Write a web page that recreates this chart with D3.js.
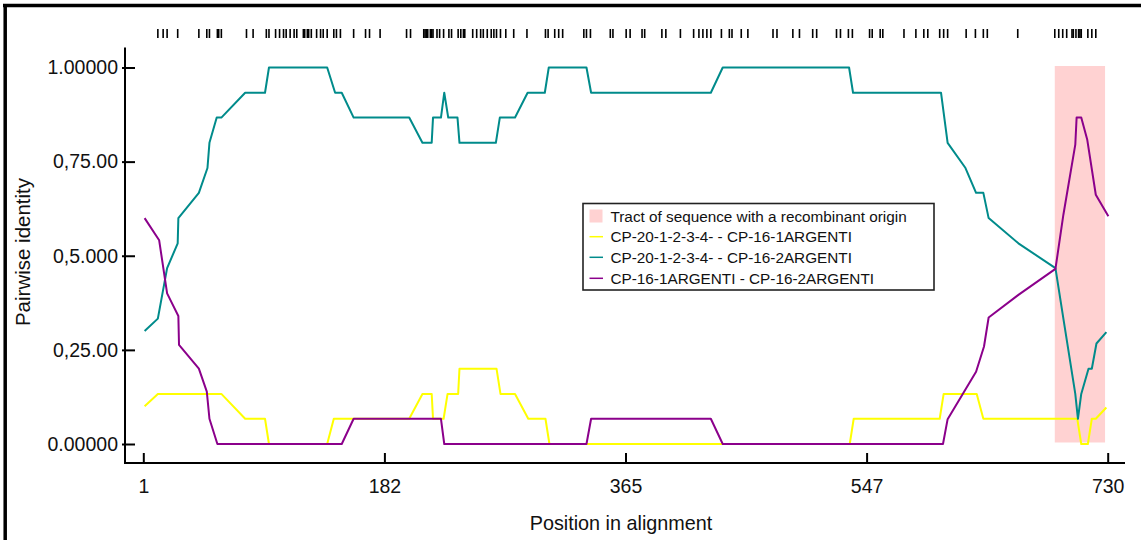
<!DOCTYPE html>
<html>
<head>
<meta charset="utf-8">
<script src="https://cdn.jsdelivr.net/npm/d3@7"></script>
<style>
  body { margin: 0; background: #fff; }
  svg { display: block; font-family: "Liberation Sans", Arial, sans-serif; }
</style>
</head>
<body>
<div id="chart"></div>
<script>
"use strict";

//informative sites shown as marks above the plot
var sitePositions = [12, 16, 19, 27, 43, 49, 51, 57, 58, 60, 79, 84, 94, 96, 101, 104, 107, 109,
  112, 115, 117, 122, 123, 125, 126, 128, 132, 135, 137, 140, 145, 147, 150, 160, 169, 172, 180,
  200, 203, 213, 214, 215, 216, 218, 219, 220, 223, 225, 228, 232, 234, 239, 241, 243, 244, 250,
  253, 256, 258, 261, 264, 266, 268, 271, 275, 281, 291, 305, 307, 312, 315, 318, 334, 336, 339,
  354, 356, 366, 369, 378, 380, 393, 396, 407, 417, 421, 424, 427, 430, 438, 444, 446, 453, 458,
  477, 480, 492, 497, 507, 510, 525, 528, 534, 537, 550, 552, 558, 560, 576, 585, 591, 594, 603,
  606, 609, 623, 630, 636, 639, 662, 690, 693, 696, 699, 703, 704, 706, 708, 709, 710, 715, 718, 721];

//[position, pairwise identity]
var seriesAB = [[2, 0.1], [12, 0.133], [60, 0.133], [78, 0.067], [93, 0.067], [96, 0], [140, 0],
  [145, 0.067], [202, 0.067], [212, 0.133], [219, 0.133], [220, 0.067], [228, 0.067], [231, 0.133],
  [239, 0.133], [240, 0.2], [268, 0.2], [271, 0.133], [282, 0.133], [292, 0.067], [305, 0.067],
  [308, 0], [535, 0], [538, 0.067], [603, 0.067], [606, 0.133], [631, 0.133], [636, 0.067],
  [707, 0.067], [710, 0], [715, 0], [718, 0.067], [721, 0.067], [729, 0.097]];

var seriesAC = [[2, 0.3], [12, 0.333], [19, 0.467], [27, 0.533], [27.5, 0.6], [43, 0.667],
  [49.5, 0.733], [51, 0.8], [56.5, 0.867], [60, 0.867], [78, 0.933], [93, 0.933], [96, 1],
  [140, 1], [146, 0.933], [151, 0.933], [160, 0.867], [202, 0.867], [212, 0.8], [219, 0.8],
  [220, 0.867], [226, 0.867], [228.5, 0.933], [231.5, 0.867], [238.5, 0.867], [240, 0.8],
  [267.5, 0.8], [270.5, 0.867], [282, 0.867], [291.5, 0.933], [304.5, 0.933], [307.5, 1],
  [336, 1], [339.5, 0.933], [430, 0.933], [439, 1], [534.5, 1], [537.5, 0.933], [604, 0.933],
  [609, 0.8], [622.5, 0.733], [630.5, 0.667], [636, 0.667], [640, 0.6], [662.5, 0.533],
  [690.5, 0.467], [696.5, 0.333], [705.5, 0.133], [707.5, 0.067], [710, 0.133], [715.5, 0.2],
  [718, 0.2], [721.5, 0.267], [729, 0.297]];

var seriesBC = [[2, 0.6], [13, 0.541], [19, 0.4], [27.5, 0.34], [28, 0.263], [43, 0.2],
  [49, 0.139], [51, 0.067], [57, 0], [151, 0], [160, 0.067], [226, 0.067], [228.5, 0], [336, 0],
  [339.5, 0.067], [430, 0.067], [439, 0], [605.5, 0], [609, 0.066], [630.5, 0.192], [636.5, 0.259],
  [640, 0.336], [662.5, 0.396], [690.5, 0.465], [696.5, 0.609], [705.5, 0.795], [706.5, 0.867],
  [710, 0.867], [714.5, 0.809], [721, 0.662], [730.5, 0.605]];

var recombinantTract = [690, 728];

var seriesNames = ["CP-20-1-2-3-4- - CP-16-1ARGENTI", "CP-20-1-2-3-4- - CP-16-2ARGENTI",
  "CP-16-1ARGENTI - CP-16-2ARGENTI"];
var seriesColors = ["#ffff00", "#008b8b", "#8b008b"];
var tractLabel = "Tract of sequence with a recombinant origin";

var xTickValues = [1, 183.25, 365.5, 547.75, 730];
var xTickLabels = ["1", "182", "365", "547", "730"];
var yTickValues = [0, 0.25, 0.5, 0.75, 1];
var yTickLabels = ["0.00000", "0,25.00", "0,5.000", "0,75.00", "1.00000"];

var w = 1141,
  h = 540;

var svg = d3
  .select("#chart")
  .append("svg")
  .attr("width", w)
  .attr("height", h);

var x = d3.scaleLinear().domain([1, 730]).range([143.3, 1107.7]);
var y = d3.scaleLinear().domain([0, 1]).range([444, 67.5]);

//frame on the top and left
svg.append("line").attr("x1", 3).attr("x2", w).attr("y1", 5.5).attr("y2", 5.5)
  .attr("stroke", "#000").attr("stroke-width", 3.5);
svg.append("line").attr("x1", 5.2).attr("x2", 5.2).attr("y1", 4).attr("y2", h)
  .attr("stroke", "#000").attr("stroke-width", 3.5);

//recombinant tract
svg.append("rect")
  .attr("x", x(recombinantTract[0]))
  .attr("width", x(recombinantTract[1]) - x(recombinantTract[0]))
  .attr("y", y(1.004))
  .attr("height", y(0.004) - y(1.004))
  .attr("fill", "#ffd2d2");

//site marks
svg.append("g").selectAll("line")
  .data(sitePositions)
  .enter()
  .append("line")
  .attr("x1", function(d) { return x(d); })
  .attr("x2", function(d) { return x(d); })
  .attr("y1", 29)
  .attr("y2", 38)
  .attr("stroke", "#000")
  .attr("stroke-width", 1.6);

//axes
var yAxis = d3.axisRight(y)
  .tickValues(yTickValues)
  .tickSize(10)
  .tickFormat(function(d, i) { return yTickLabels[i]; });

var gy = svg.append("g").attr("transform", "translate(125,0)").call(yAxis);
gy.select(".domain").remove();
gy.selectAll(".tick line").attr("x1", -3).attr("stroke-width", 2);
gy.selectAll(".tick text")
  .attr("x", -7)
  .attr("text-anchor", "end")
  .attr("font-size", 19.5)
  .attr("font-family", "Liberation Sans, Arial, sans-serif")
  .attr("fill", "#111");
svg.append("line").attr("x1", 125).attr("x2", 125).attr("y1", 47.5).attr("y2", 464)
  .attr("stroke", "#000").attr("stroke-width", 2);

var xAxis = d3.axisTop(x)
  .tickValues(xTickValues)
  .tickSize(10)
  .tickFormat(function(d, i) { return xTickLabels[i]; });

var gx = svg.append("g").attr("transform", "translate(0,463)").call(xAxis);
gx.select(".domain").remove();
gx.selectAll(".tick line").attr("stroke-width", 2);
gx.selectAll(".tick text")
  .attr("y", 30)
  .attr("dy", 0)
  .attr("font-size", 19.5)
  .attr("font-family", "Liberation Sans, Arial, sans-serif")
  .attr("fill", "#111");
svg.append("line").attr("x1", 124).attr("x2", 1125).attr("y1", 463).attr("y2", 463)
  .attr("stroke", "#000").attr("stroke-width", 2);

//axis titles
svg.append("text")
  .attr("x", 621)
  .attr("y", 530)
  .attr("text-anchor", "middle")
  .attr("font-size", 19.8)
  .attr("fill", "#111")
  .text("Position in alignment");

svg.append("text")
  .attr("transform", "translate(30,252) rotate(-90)")
  .attr("text-anchor", "middle")
  .attr("font-size", 20.5)
  .attr("fill", "#111")
  .text("Pairwise identity");

//identity lines
var line = d3.line()
  .x(function(d) { return x(d[0]); })
  .y(function(d) { return y(d[1]); });

[seriesAB, seriesAC, seriesBC].forEach(function(s, i) {
  svg.append("path")
    .datum(s)
    .attr("d", line)
    .attr("fill", "none")
    .attr("stroke", seriesColors[i])
    .attr("stroke-width", 2)
    .attr("stroke-linejoin", "round");
});

//legend
var lg = svg.append("g");
lg.append("rect")
  .attr("x", 583)
  .attr("y", 203.5)
  .attr("width", 351)
  .attr("height", 86.5)
  .attr("fill", "#fff")
  .attr("stroke", "#222")
  .attr("stroke-width", 1.6);

var rowY = [216, 236.7, 257.3, 278.3];

lg.append("rect")
  .attr("x", 589.5)
  .attr("y", rowY[0] - 6.5)
  .attr("width", 13)
  .attr("height", 13)
  .attr("fill", "#ffd2d2");

seriesNames.forEach(function(name, i) {
  lg.append("line")
    .attr("x1", 589.5)
    .attr("x2", 603)
    .attr("y1", rowY[i + 1])
    .attr("y2", rowY[i + 1])
    .attr("stroke", seriesColors[i])
    .attr("stroke-width", 1.5);
});

lg.selectAll("text")
  .data([tractLabel].concat(seriesNames))
  .enter()
  .append("text")
  .attr("x", 610.5)
  .attr("y", function(d, i) { return rowY[i] + 5.5; })
  .attr("font-size", 15.3)
  .attr("fill", "#111")
  .text(function(d) { return d; });
</script>
</body>
</html>
